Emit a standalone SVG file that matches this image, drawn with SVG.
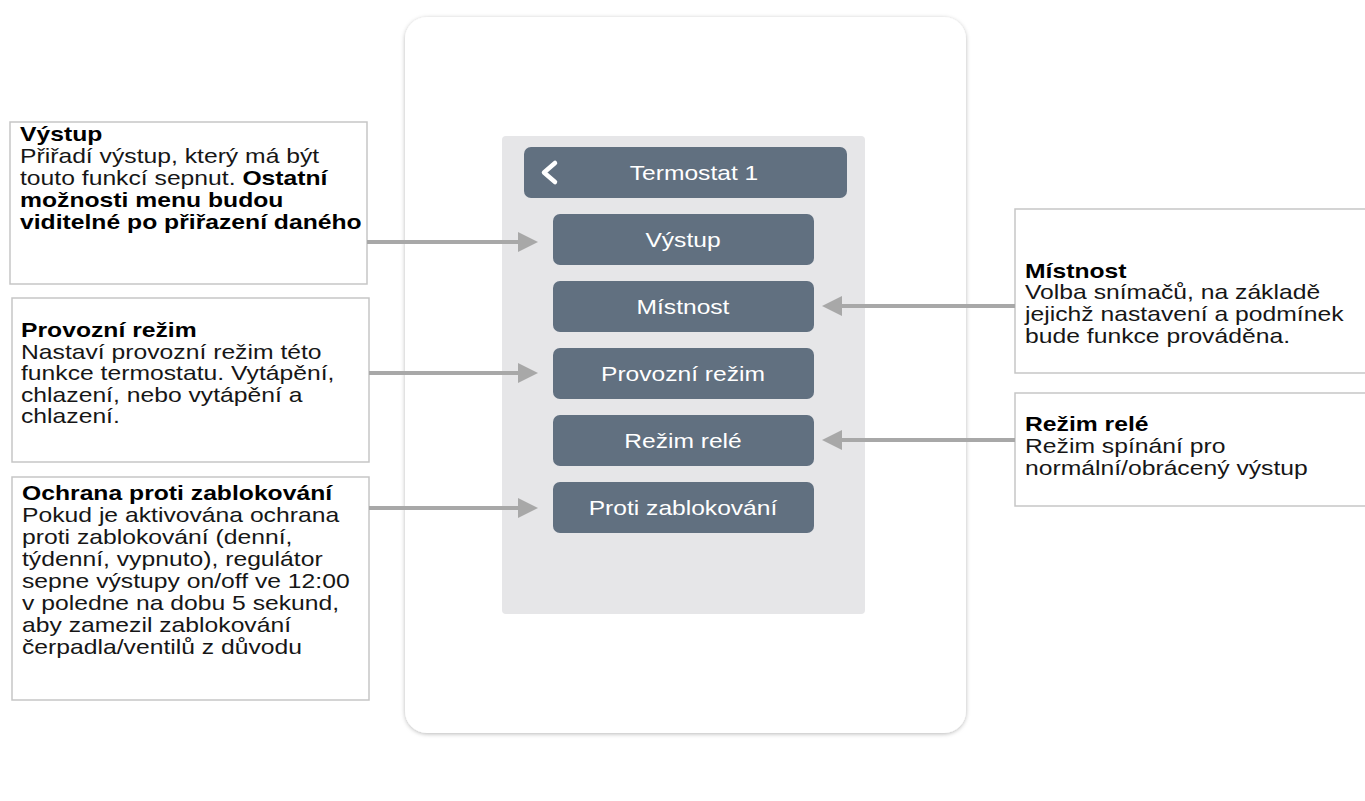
<svg xmlns="http://www.w3.org/2000/svg" width="1365" height="801" viewBox="0 0 1365 801">
<style>
.t{font-family:"Liberation Sans",Arial,sans-serif;font-size:20px;fill:#161616}
.b{font-weight:bold;fill:#000}
.bt{font-family:"Liberation Sans",Arial,sans-serif;font-size:20.5px;fill:#ffffff;text-anchor:middle}
.box{fill:#ffffff;stroke:#c6c6c6;stroke-width:1.5}
.btn{fill:#617080}
.arr{stroke:#a8a8a8;stroke-width:4;fill:none;marker-end:url(#ah)}
</style>
<defs>
<marker id="ah" markerUnits="userSpaceOnUse" markerWidth="20" markerHeight="20" refX="0" refY="10" orient="auto">
<path d="M0,0 L20,10 L0,20 Z" fill="#a8a8a8"/>
</marker>
<filter id="sh" x="-5%" y="-5%" width="110%" height="110%">
<feDropShadow dx="0" dy="1" stdDeviation="2.2" flood-color="#000" flood-opacity="0.28"/>
</filter>
</defs>
<rect width="1365" height="801" fill="#ffffff"/>
<g id="device">
<rect x="405" y="17" width="561" height="716" rx="22" fill="#ffffff" filter="url(#sh)"/>
<rect x="502" y="136" width="363" height="478" rx="4" fill="#e6e6e8"/>
</g>
<g id="header">
<rect x="524" y="147" width="323" height="51" rx="7" class="btn"/>
<polyline points="555,163 544,172.5 555,182" fill="none" stroke="#ffffff" stroke-width="4.5" stroke-linecap="round" stroke-linejoin="round"/>
<text class="bt" transform="translate(694 180) scale(1.2 1)">Termostat 1</text>
</g>
<g id="btn-vystup">
<rect x="553" y="214" width="261" height="51" rx="7" class="btn"/>
<text class="bt" transform="translate(683 247) scale(1.2 1)">Výstup</text>
</g>
<g id="btn-mistnost">
<rect x="553" y="281" width="261" height="51" rx="7" class="btn"/>
<text class="bt" transform="translate(683 314) scale(1.2 1)">Místnost</text>
</g>
<g id="btn-provozni">
<rect x="553" y="348" width="261" height="51" rx="7" class="btn"/>
<text class="bt" transform="translate(683 381) scale(1.2 1)">Provozní režim</text>
</g>
<g id="btn-rele">
<rect x="553" y="415" width="261" height="51" rx="7" class="btn"/>
<text class="bt" transform="translate(683 448) scale(1.2 1)">Režim relé</text>
</g>
<g id="btn-proti">
<rect x="553" y="482" width="261" height="51" rx="7" class="btn"/>
<text class="bt" transform="translate(683 515) scale(1.2 1)">Proti zablokování</text>
</g>
<g id="note-vystup">
<rect x="10" y="122" width="357" height="162" class="box"/>
<text class="t" transform="translate(20 0) scale(1.235 1)">
<tspan x="0" y="141" class="b">Výstup</tspan>
<tspan x="0" y="163">Přiřadí výstup, který má být</tspan>
<tspan x="0" y="185">touto funkcí sepnut. <tspan class="b">Ostatní</tspan></tspan>
<tspan x="0" y="207" class="b">možnosti menu budou</tspan>
<tspan x="0" y="229" class="b">viditelné po přiřazení daného</tspan>
</text>
</g>
<g id="note-provozni">
<rect x="12" y="298" width="357" height="164" class="box"/>
<text class="t" transform="translate(21 0) scale(1.235 1)">
<tspan x="0" y="337" class="b">Provozní režim</tspan>
<tspan x="0" y="359">Nastaví provozní režim této</tspan>
<tspan x="0" y="380">funkce termostatu. Vytápění,</tspan>
<tspan x="0" y="402">chlazení, nebo vytápění a</tspan>
<tspan x="0" y="423">chlazení.</tspan>
</text>
</g>
<g id="note-proti">
<rect x="12" y="477" width="357" height="223" class="box"/>
<text class="t" transform="translate(22 0) scale(1.235 1)">
<tspan x="0" y="500" class="b">Ochrana proti zablokování</tspan>
<tspan x="0" y="522">Pokud je aktivována ochrana</tspan>
<tspan x="0" y="544">proti zablokování (denní,</tspan>
<tspan x="0" y="566">týdenní, vypnuto), regulátor</tspan>
<tspan x="0" y="588">sepne výstupy on/off ve 12:00</tspan>
<tspan x="0" y="610">v poledne na dobu 5 sekund,</tspan>
<tspan x="0" y="632">aby zamezil zablokování</tspan>
<tspan x="0" y="654">čerpadla/ventilů z důvodu</tspan>
</text>
</g>
<g id="note-mistnost">
<rect x="1015" y="209" width="360" height="164" class="box"/>
<text class="t" transform="translate(1025 0) scale(1.235 1)">
<tspan x="0" y="278" class="b">Místnost</tspan>
<tspan x="0" y="299">Volba snímačů, na základě</tspan>
<tspan x="0" y="321">jejichž nastavení a podmínek</tspan>
<tspan x="0" y="343">bude funkce prováděna.</tspan>
</text>
</g>
<g id="note-rele">
<rect x="1015" y="393" width="360" height="113" class="box"/>
<text class="t" transform="translate(1025 0) scale(1.235 1)">
<tspan x="0" y="431" class="b">Režim relé</tspan>
<tspan x="0" y="453">Režim spínání pro</tspan>
<tspan x="0" y="475">normální/obrácený výstup</tspan>
</text>
</g>
<g id="connectors">
<line x1="367" y1="242" x2="518" y2="242" class="arr"/>
<line x1="369" y1="373" x2="518" y2="373" class="arr"/>
<line x1="369" y1="508" x2="518" y2="508" class="arr"/>
<line x1="1015" y1="306" x2="842" y2="306" class="arr"/>
<line x1="1015" y1="440" x2="842" y2="440" class="arr"/>
</g>
</svg>
